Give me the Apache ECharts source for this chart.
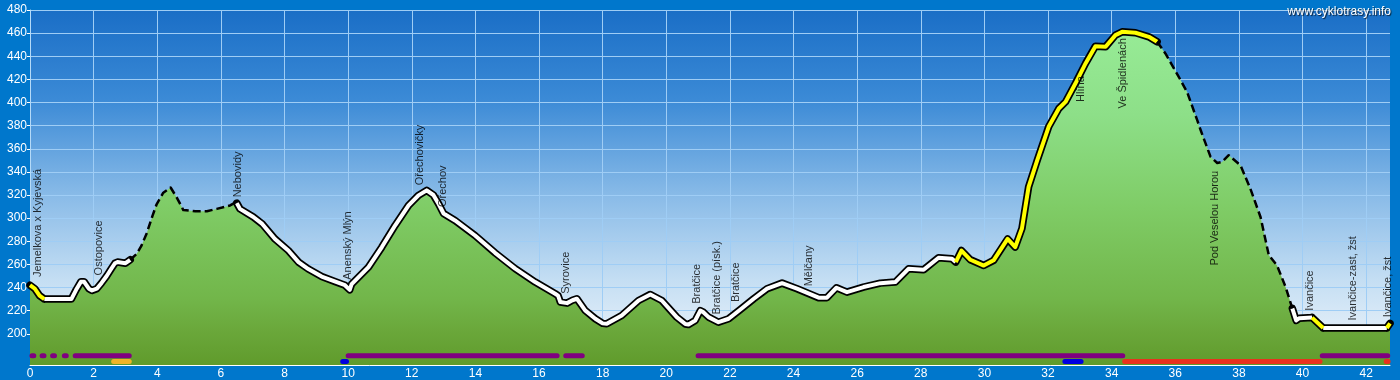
<!DOCTYPE html>
<html><head><meta charset="utf-8">
<script src="https://cdn.jsdelivr.net/npm/echarts@6/dist/echarts.min.js"></script>
<style>html,body{margin:0;padding:0;background:#0077cc}#c{width:1400px;height:380px}</style>
</head><body><div id="c"></div>
<script>
// elevation profile: [km, metres]
const profile = [
 [0,242],[0.15,239],[0.3,233],[0.45,230],[1.3,230],[1.45,238],[1.6,245],[1.7,245],[1.85,239],[1.95,237.5],
 [2.1,239],[2.25,244],[2.41,250],[2.55,256],[2.67,261],[2.75,262],[3.0,261],[3.15,264],[3.35,269],[3.5,276],
 [3.67,287],[3.85,302],[3.98,312],[4.19,322],[4.42,326.5],[4.61,318],[4.82,307],[5.2,306],[5.56,306],[5.87,308],
 [6.29,311],[6.42,313],[6.5,313],[6.56,312],[6.6,308],[7.02,301],[7.3,295],[7.7,282],[8.12,272],[8.44,262],
 [8.75,256],[9.17,249.5],[9.6,245],[9.9,242],[10.05,238],[10.11,243],[10.64,257.7],[11.06,275],[11.48,293.8],[11.9,311],
 [12.21,319.7],[12.47,324],[12.68,320],[12.85,312],[13.0,304],[13.36,298],[13.99,285],[14.62,270],[15.25,256.3],[15.88,244.7],
 [16.51,234.6],[16.6,233],[16.67,227.4],[16.88,226.5],[17.05,229],[17.19,230.3],[17.3,226],[17.45,220.2],[17.77,213],[18.0,209],
 [18.13,208.7],[18.6,215.8],[19.13,228.8],[19.5,234],[19.86,228.8],[20.33,214.4],[20.6,208.5],[20.7,208],[20.91,211.5],[21.07,220],
 [21.15,219],[21.33,214.4],[21.64,210],[21.96,213],[22.33,221],[22.75,230.3],[23.17,239],[23.64,243.8],[24.11,239],[24.79,231.2],
 [25.05,231.2],[25.35,239.8],[25.68,236],[26.2,240.4],[26.73,243.8],[27.2,244.7],[27.62,256.3],[28.09,255.4],[28.56,265.8],[28.98,264.9],
 [29.1,262],[29.28,272],[29.56,264],[29.98,259],[30.29,263.5],[30.73,282],[30.97,275],[31.18,291],[31.39,327],[31.66,350],
 [32.02,379],[32.34,394.8],[32.55,400.5],[32.86,416.4],[33.18,433.8],[33.49,448.7],[33.81,448.2],[34.12,458.3],[34.33,461.1],[34.75,460.3],
 [35.17,456.8],[35.43,452.5],[35.69,442.4],[36.11,422.2],[36.37,409.2],[36.69,384.7],[36.8,376],[37.11,353],[37.32,347.7],[37.47,348.6],
 [37.68,354.4],[38.05,345.7],[38.36,325.5],[38.68,301],[38.94,268],[39.2,259],[39.47,240.3],[39.68,222],[39.8,211.5],[39.9,213.5],
 [40.3,214],[40.65,205],[42.65,205],[42.75,209]
];
// surface sections along the profile [fromKm, toKm]
const yellowSections = [[0,0.45],[29.1,35.43],[40.3,40.65],[42.65,42.75]];
const whiteSections  = [[0.45,3.15],[6.5,29.1],[39.68,40.3],[40.65,42.65]];
const dashedSections = [[3.15,6.5],[35.43,39.68]];
// strips at the bottom [fromKm, toKm]
const purpleStrip = [[0.06,0.12],[0.38,0.44],[0.71,0.77],[1.08,1.14],[1.42,3.12],[10.0,16.57],[16.84,17.36],[21.0,34.35],[40.62,42.68]];
const orangeStrip = [[2.63,3.12]];
const blueStrip   = [[9.83,9.95],[32.53,33.04]];
const redStrip    = [[34.41,40.55],[42.63,42.69]];
// waypoints [km, elevation where name starts, name]
const waypoints = [
 [0.25,249,'Jemelkova x Kyjevská'],[2.18,250.5,'Ostopovice'],[6.55,318,'Nebovidy'],[9.98,246.7,'Anenský Mlýn'],
 [12.27,328.4,'Ořechovičky'],[12.99,309.6,'Ořechov'],[16.86,234.6,'Syrovice'],[20.97,226,'Bratčice'],
 [21.6,216.7,'Bratčice (písk.)'],[22.2,227.4,'Bratčice'],[24.5,241,'Mělčany'],[33.04,400.5,'Hlína'],
 [34.37,394.8,'Ve Špidlenách'],[37.26,259,'Pod Veselou Horou'],[40.23,220,'Ivančice'],
 [41.58,211.5,'Ivančice-zast, žst'],[42.7,214.4,'Ivančice, žst']
];
const xTicks = [0,2,4,6,8,10,12,14,16,18,20,22,24,26,28,30,32,34,36,38,40,42];
const yTicks = [200,220,240,260,280,300,320,340,360,380,400,420,440,460,480];

function pick(ranges){
  const out=[];
  ranges.slice().sort((a,b)=>a[0]-b[0]).forEach(([a,b])=>{
    profile.forEach(p=>{ if(p[0]>=a-1e-9 && p[0]<=b+1e-9) out.push(p); });
    out.push([b,'-']);
  });
  return out;
}
function strip(ranges, level){
  const out=[];
  ranges.forEach(([a,b])=>{ out.push([a,level],[b,level],[b,'-']); });
  return out;
}
const FONT='Arial, "Liberation Sans", sans-serif';
function stripSeries(ranges, level, color){
  return {type:'line', data:strip(ranges,level), symbol:'none', silent:true, z:6,
    lineStyle:{color:color, width:5, cap:'round'}};
}
const chart = echarts.init(document.getElementById('c'), null, {renderer:'canvas'});
chart.setOption({
  animation:false,
  backgroundColor:'#0077cc',
  title:{text:'www.cyklotrasy.info', right:4, top:1,
    textStyle:{color:'#fff', fontSize:12, fontWeight:'normal', fontFamily:FONT,
      textShadowColor:'rgba(0,0,0,0.75)', textShadowOffsetX:1, textShadowOffsetY:1, textShadowBlur:1}},
  grid:{left:30, right:10, top:10, bottom:15, show:true, borderWidth:0,
    backgroundColor:{type:'linear',x:0,y:0,x2:0,y2:1,colorStops:[
      {offset:0,color:'#1a6ec6'},{offset:0.25,color:'#3b8ad6'},{offset:0.53,color:'#8bbce8'},
      {offset:0.76,color:'#c4def3'},{offset:0.93,color:'#e6f0f9'},{offset:1,color:'#eef5fb'}]}},
  xAxis:{type:'value', min:0, max:42.75,
    axisLine:{lineStyle:{color:'#ffffff', width:1}},
    axisTick:{inside:true, length:3, lineStyle:{color:'#ffffff'}, customValues:xTicks},
    axisLabel:{color:'#fff', fontSize:12, fontFamily:FONT, margin:3, customValues:xTicks},
    splitLine:{show:true, lineStyle:{color:'#9fcdf5', width:1}}},
  yAxis:{type:'value', min:173, max:480,
    axisLine:{show:true, lineStyle:{color:'#b5daf8', width:1}},
    axisTick:{show:true, length:3, lineStyle:{color:'#ffffff'}, customValues:yTicks},
    axisLabel:{color:'#fff', fontSize:12, fontFamily:FONT, margin:3, customValues:yTicks},
    splitLine:{show:true, lineStyle:{color:'#9fcdf5', width:1}}},
  series:[
    {type:'line', data:profile, symbol:'none', silent:true, z:2,
      lineStyle:{width:0},
      areaStyle:{origin:'start', opacity:1, color:{type:'linear',x:0,y:0,x2:0,y2:1,colorStops:[
        {offset:0,color:'#97eb96'},{offset:0.25,color:'#8ddf88'},{offset:0.53,color:'#7fcc66'},
        {offset:0.8,color:'#72b64a'},{offset:0.9,color:'#6aa73a'},{offset:1,color:'#609b2c'}]}}},
    {type:'line', data:pick(yellowSections.concat(whiteSections)), symbol:'none', silent:true, z:3,
      lineStyle:{color:'#000', width:7.5, join:'round', cap:'round'}},
    {type:'line', data:pick(whiteSections), symbol:'none', silent:true, z:4,
      lineStyle:{color:'#ffffff', width:4, join:'round'}},
    {type:'line', data:pick(yellowSections), symbol:'none', silent:true, z:4,
      lineStyle:{color:'#ffff00', width:4, join:'round'}},
    {type:'line', data:pick(dashedSections), symbol:'none', silent:true, z:4,
      lineStyle:{color:'#000', width:2.5, type:[8,4], join:'round'}},
    stripSeries(purpleStrip, 181, '#800080'),
    stripSeries(orangeStrip, 176, '#f0b428'),
    stripSeries(blueStrip, 176, '#0000e0'),
    stripSeries(redStrip, 176, '#e8321e'),
    {type:'scatter', data:waypoints, symbolSize:1, silent:true, z:8,
      itemStyle:{color:'rgba(0,0,0,0)'},
      label:{show:true, position:'inside', rotate:90, align:'left', verticalAlign:'middle',
        color:'#000', fontSize:11, fontFamily:FONT, formatter:p=>p.data[2]}}
  ]
});
</script></body></html>
